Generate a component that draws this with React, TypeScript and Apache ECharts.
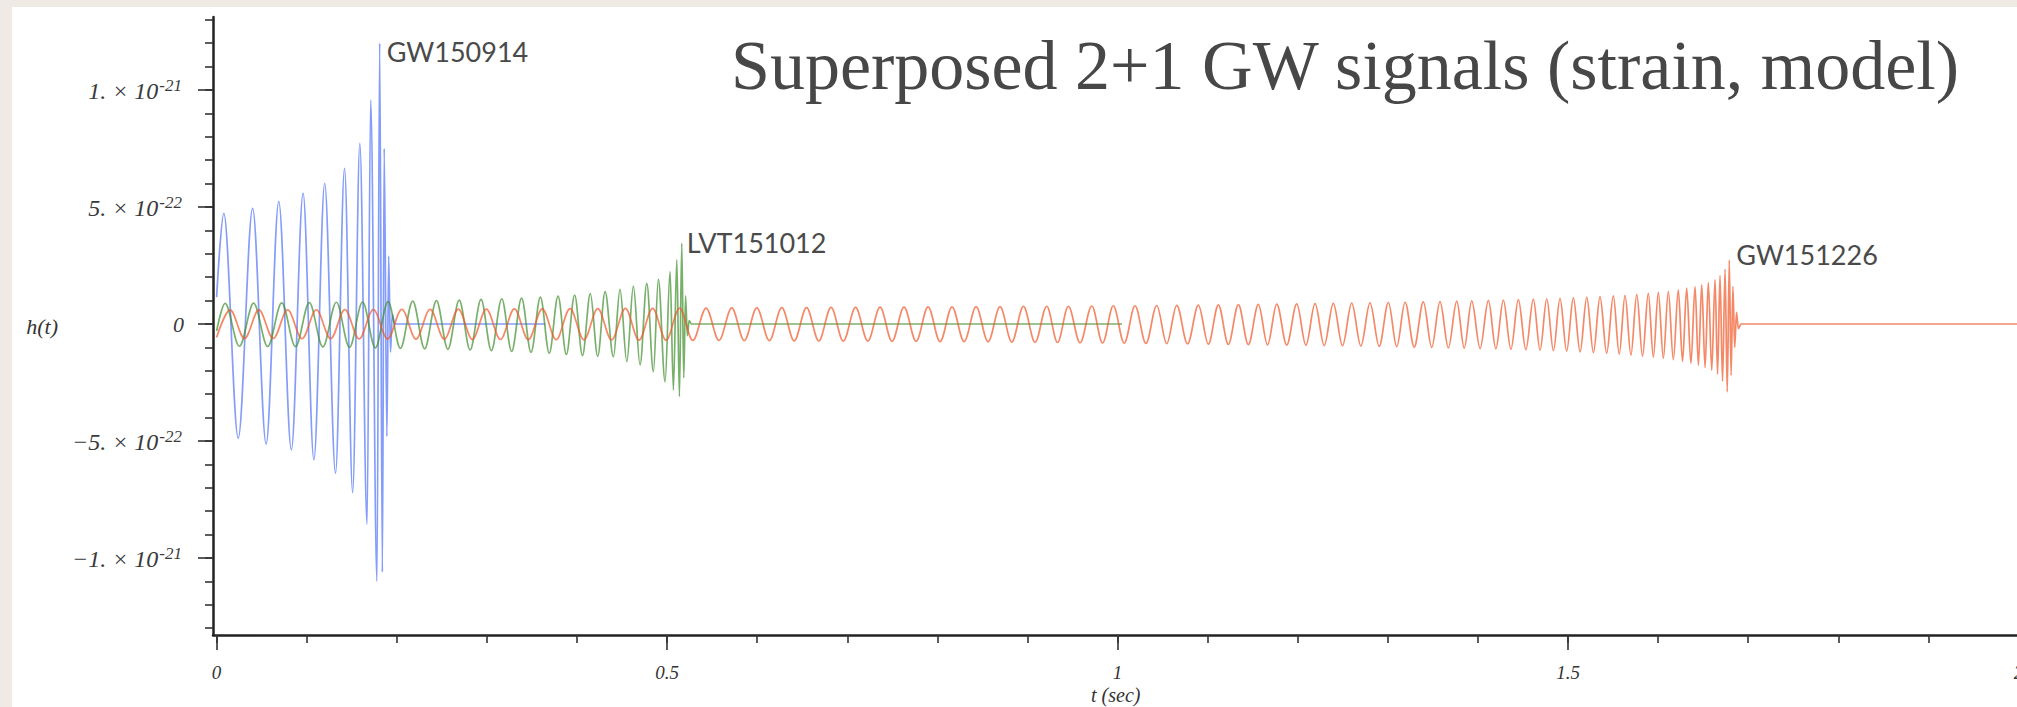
import { useEffect, useRef } from "react";
import * as echarts from "echarts";

// Strain h(t) in units of 1e-22, time in seconds. Points are the turning points.
const blueWave: [number, number][] = [
  [0, 1.15], [0.008, 4.73], [0.024, -4.88], [0.04, 4.94], [0.055, -5.13], [0.069, 5.23], [0.083, -5.38],
  [0.096, 5.59], [0.108, -5.81], [0.12, 6.01], [0.132, -6.38], [0.142, 6.65], [0.151, -7.21], [0.159, 7.72],
  [0.167, -8.55], [0.171, 9.57], [0.178, -11.0], [0.181, 12.0], [0.184, -10.6], [0.186, 7.5], [0.189, -4.8],
  [0.191, 2.9], [0.193, -1.2], [0.195, 0.4], [0.198, 0], [0.365, 0],
];

const greenWave: [number, number][] = [
  [0, -0.3], [0.0094, 0.88], [0.0253, -0.95], [0.0411, 0.89], [0.0567, -0.96], [0.0723, 0.9], [0.0876, -0.97],
  [0.1029, 0.91], [0.1179, -0.98], [0.1329, 0.93], [0.1475, -1.0], [0.162, 0.94], [0.1762, -1.02],
  [0.1903, 0.96], [0.204, -1.04], [0.2177, 0.98], [0.2309, -1.06], [0.244, 1.0], [0.2567, -1.08],
  [0.2693, 1.02], [0.2814, -1.11], [0.2935, 1.05], [0.305, -1.14], [0.3165, 1.08], [0.3275, -1.17],
  [0.3385, 1.11], [0.349, -1.21], [0.3594, 1.15], [0.3692, -1.25], [0.379, 1.19], [0.3882, -1.3],
  [0.3974, 1.24], [0.4061, -1.35], [0.4148, 1.3], [0.423, -1.38], [0.4312, 1.38], [0.4404, -1.4],
  [0.4478, 1.48], [0.4553, -1.61], [0.4626, 1.62], [0.47, -1.75], [0.4775, 1.74], [0.4848, -2.04],
  [0.4903, 1.91], [0.4978, -2.47], [0.5033, 2.24], [0.507, -2.82], [0.5108, 2.74], [0.5137, -3.1],
  [0.5163, 3.45], [0.5185, -2.3], [0.5205, 1.2], [0.5225, -0.5], [0.5245, 0.15], [0.527, 0], [1.005, 0],
];

const redWave: [number, number][] = [
  [0, -0.58], [0.015, 0.6], [0.031, -0.62], [0.0469, 0.6], [0.0629, -0.62], [0.0788, 0.61], [0.0948, -0.63],
  [0.1107, 0.61], [0.1266, -0.63], [0.1424, 0.62], [0.1582, -0.64], [0.174, 0.62], [0.1898, -0.64],
  [0.2056, 0.63], [0.2213, -0.65], [0.237, 0.63], [0.2527, -0.65], [0.2683, 0.64], [0.2839, -0.66],
  [0.2994, 0.64], [0.315, -0.66], [0.3305, 0.65], [0.346, -0.67], [0.3615, 0.65], [0.3769, -0.67],
  [0.3923, 0.66], [0.4077, -0.68], [0.4231, 0.66], [0.4384, -0.68], [0.4537, 0.67], [0.4688, -0.69],
  [0.4839, 0.67], [0.4989, -0.69], [0.5139, 0.68], [0.5286, -0.7], [0.5433, 0.68], [0.5576, -0.7],
  [0.5718, 0.69], [0.5857, -0.71], [0.5996, 0.69], [0.6135, -0.71], [0.6273, 0.7], [0.6411, -0.72],
  [0.6548, 0.7], [0.6684, -0.72], [0.682, 0.71], [0.6956, -0.73], [0.7092, 0.71], [0.7228, -0.73],
  [0.7364, 0.72], [0.7497, -0.74], [0.763, 0.72], [0.7764, -0.74], [0.7897, 0.73], [0.803, -0.75],
  [0.8163, 0.73], [0.8297, -0.75], [0.843, 0.74], [0.8563, -0.76], [0.8696, 0.74], [0.8826, -0.77],
  [0.8955, 0.75], [0.9085, -0.78], [0.9214, 0.76], [0.9334, -0.79], [0.9454, 0.76], [0.9584, -0.8],
  [0.9714, 0.77], [0.9834, -0.81], [0.9953, 0.78], [1.0074, -0.82], [1.0194, 0.78], [1.0315, -0.83],
  [1.0435, 0.79], [1.0546, -0.84], [1.0657, 0.8], [1.0777, -0.85], [1.0897, 0.81], [1.1008, -0.86],
  [1.1119, 0.82], [1.123, -0.87], [1.1341, 0.83], [1.1452, -0.88], [1.1563, 0.84], [1.1665, -0.89],
  [1.1767, 0.85], [1.1878, -0.9], [1.1989, 0.86], [1.2091, -0.91], [1.2192, 0.87], [1.2294, -0.92],
  [1.2395, 0.88], [1.2497, -0.93], [1.2599, 0.89], [1.2701, -0.94], [1.2802, 0.9], [1.2904, -0.96],
  [1.3006, 0.92], [1.3099, -0.97], [1.3191, 0.93], [1.3293, -0.99], [1.3394, 0.95], [1.3487, -1.0],
  [1.3579, 0.96], [1.3672, -1.02], [1.3765, 0.98], [1.3848, -1.03], [1.3931, 0.99], [1.4024, -1.05],
  [1.4116, 1.01], [1.4199, -1.06], [1.4282, 1.02], [1.4366, -1.08], [1.4449, 1.04], [1.4532, -1.1],
  [1.4615, 1.06], [1.469, -1.12], [1.4764, 1.08], [1.4838, -1.14], [1.4911, 1.1], [1.4985, -1.16],
  [1.5059, 1.12], [1.5134, -1.19], [1.5208, 1.14], [1.5282, -1.22], [1.5355, 1.17], [1.5429, -1.25],
  [1.5503, 1.2], [1.5568, -1.29], [1.5633, 1.23], [1.5698, -1.33], [1.5763, 1.27], [1.5827, -1.37],
  [1.5891, 1.31], [1.5947, -1.42], [1.6002, 1.35], [1.6058, -1.47], [1.6113, 1.4], [1.6169, -1.53],
  [1.6224, 1.46], [1.6271, -1.6], [1.6317, 1.53], [1.6364, -1.68], [1.641, 1.6], [1.6447, -1.76],
  [1.6484, 1.68], [1.6521, -1.86], [1.6557, 1.78], [1.6595, -1.98], [1.6632, 1.9], [1.666, -2.15],
  [1.6687, 2.08], [1.6715, -2.45], [1.6743, 2.35], [1.6767, -2.9], [1.679, 2.73], [1.681, -2.2],
  [1.683, 1.6], [1.685, -1.0], [1.687, 0.5], [1.689, -0.2], [1.692, 0], [2.0, 0],
];

const eventNames = ["GW150914", "LVT151012", "GW151226"];
const xMinorTicks = [0, 0.1, 0.2, 0.3, 0.4, 0.5, 0.6, 0.7, 0.8, 0.9, 1.0, 1.1, 1.2, 1.3, 1.4, 1.5, 1.6, 1.7, 1.8, 1.9, 2.0];
const xMajorTicks = [0, 0.5, 1, 1.5, 2];
const yMinorTicks = [-13, -12, -11, -10, -9, -8, -7, -6, -5, -4, -3, -2, -1, 0, 1, 2, 3, 4, 5, 6, 7, 8, 9, 10, 11, 12, 13];
const yMajorTicks = [-10, -5, 0, 5, 10];

const X_MIN = -0.004;
const X_MAX = 2.0;
const Y_MIN = -13.29;
const Y_MAX = 13.12;

const SERIF = "'Liberation Serif', 'Times New Roman', serif";

function peakOf(w: [number, number][]): [number, number] {
  let best = w[0];
  for (const p of w) if (p[1] > best[1]) best = p;
  return best;
}

function yLabel(v: number): string {
  if (v === 0) return "{z|0}";
  const sign = v < 0 ? "\u2212" : "";
  const a = Math.abs(v);
  if (a === 10) return `{m|${sign}1. × 10}{s|-21}`;
  return `{m|${sign}${a}. × 10}{s|-22}`;
}

export default function App() {
  const ref = useRef<HTMLDivElement>(null);
  useEffect(() => {
    if (!ref.current) return;
    const chart = echarts.init(ref.current, undefined, { renderer: "svg" });
    const waves = [blueWave, greenWave, redWave];
    const colors = ["#5476f8", "#3f8e2c", "#ef5527"];
    const opac = [0.72, 0.7, 0.7];
    const labelOffsets: [number, number][] = [[2, 8], [0, -1], [2, -6]];
    const axisLineStyle = { color: "#222", width: 2.5 };
    const tickStyle = { color: "#333", width: 1.6 };
    const labelColor = "#3a3a3a";
    chart.setOption({
      animation: false,
      backgroundColor: "#ffffff",
      title: {
        text: "Superposed 2+1 GW signals (strain, model)",
        left: 714,
        top: 18,
        textStyle: { fontFamily: SERIF, fontSize: 70, fontWeight: "normal", color: "#474747" },
      },
      grid: { left: 201, top: 10, width: 1805.5, height: 618, containLabel: false, outerBoundsMode: "none" },
      xAxis: [
        {
          type: "value", min: X_MIN, max: X_MAX, position: "bottom",
          axisLine: { show: true, onZero: false, lineStyle: axisLineStyle },
          axisTick: { show: true, customValues: xMinorTicks, length: 8, lineStyle: tickStyle },
          axisLabel: { show: false },
          splitLine: { show: false },
          name: "t (sec)", nameLocation: "middle", nameGap: 50,
          nameTextStyle: { fontFamily: SERIF, fontStyle: "italic", fontSize: 20, color: "#333" },
        },
        {
          type: "value", min: X_MIN, max: X_MAX, position: "bottom",
          axisLine: { show: false, onZero: false },
          axisTick: { show: true, customValues: xMajorTicks, length: 15, lineStyle: tickStyle },
          axisLabel: {
            show: true, customValues: xMajorTicks, margin: 28,
            formatter: (v: number) => String(v),
            fontFamily: SERIF, fontStyle: "italic", fontSize: 19, color: "#333",
          },
          splitLine: { show: false },
        },
      ],
      yAxis: [
        {
          type: "value", min: Y_MIN, max: Y_MAX, position: "left",
          axisLine: { show: true, onZero: false, lineStyle: axisLineStyle },
          axisTick: { show: true, customValues: yMinorTicks, length: 8, lineStyle: tickStyle },
          axisLabel: { show: false },
          splitLine: { show: false },
          name: "h(t)", nameLocation: "middle", nameGap: 155, nameRotate: 0,
          nameTextStyle: { fontFamily: SERIF, fontStyle: "italic", fontSize: 22, color: "#333" },
        },
        {
          type: "value", min: Y_MIN, max: Y_MAX, position: "left",
          axisLine: { show: false, onZero: false },
          axisTick: { show: true, customValues: yMajorTicks, length: 15, lineStyle: tickStyle },
          axisLabel: {
            show: true, customValues: yMajorTicks, margin: 29,
            formatter: yLabel,
            fontFamily: SERIF, fontStyle: "italic", fontSize: 24, color: labelColor,
            rich: {
              z: { fontFamily: SERIF, fontStyle: "italic", fontSize: 22, color: labelColor, lineHeight: 24 },
              m: { fontFamily: SERIF, fontStyle: "italic", fontSize: 24, color: labelColor, lineHeight: 26, verticalAlign: "bottom" },
              s: { fontFamily: SERIF, fontStyle: "italic", fontSize: 17, color: labelColor, lineHeight: 18, padding: [0, 2, 18, 1], verticalAlign: "top" },
            },
          },
          splitLine: { show: false },
        },
      ],
      series: waves.map((w, i) => ({
        type: "line",
        xAxisIndex: 0,
        yAxisIndex: 0,
        data: w,
        showSymbol: false,
        smooth: 0.34,
        smoothMonotone: "x",
        z: 2 + i,
        lineStyle: { color: colors[i], width: 1.7, opacity: opac[i] },
        markPoint: {
          symbol: "circle",
          symbolSize: 0,
          silent: true,
          data: [{ coord: peakOf(w), value: eventNames[i] }],
          label: {
            show: true, position: "right", offset: labelOffsets[i],
            formatter: eventNames[i],
            fontFamily: "Lato, 'Open Sans', sans-serif", fontSize: 27, color: "#4a4a4a",
          },
        },
      })),
    });
    return () => chart.dispose();
  }, []);

  return (
    <div style={{ position: "fixed", left: 0, top: 0, width: 2017, height: 707, background: "#efebe4" }}>
      <div ref={ref} style={{ position: "absolute", left: 12, top: 7, width: 2005, height: 700, background: "#fff" }} />
    </div>
  );
}
